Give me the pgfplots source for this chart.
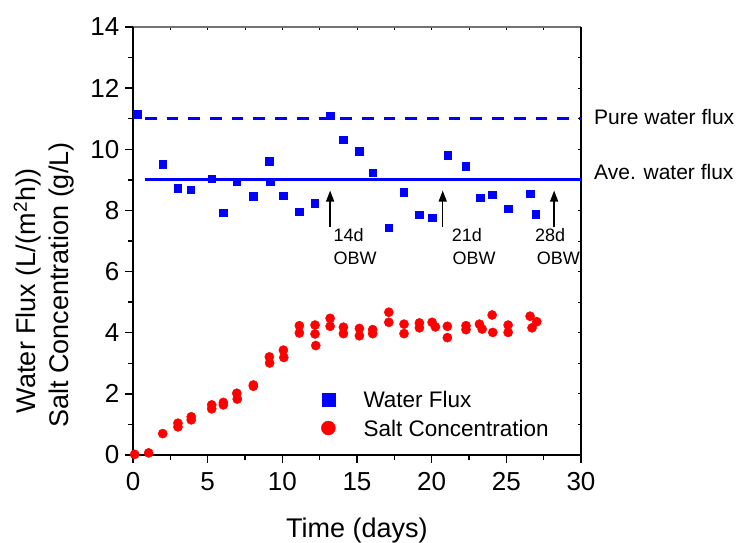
\documentclass[border=0pt]{standalone}
\usepackage{pgfplots}
\pgfplotsset{compat=1.18}
\usepackage{fontspec}
\setmainfont{Liberation Sans}
\usetikzlibrary{arrows.meta}
\definecolor{pblue}{RGB}{0,0,255}
\definecolor{pred}{RGB}{255,0,0}
\newcommand{\tickfont}{\fontsize{26}{31}\selectfont}
\newcommand{\labfont}{\fontsize{27}{32}\selectfont}
\newcommand{\legfont}{\fontsize{22.5}{27}\selectfont}
\newcommand{\annfont}{\fontsize{18}{22}\selectfont}
\newcommand{\rfont}{\fontsize{21}{25}\selectfont}
\begin{document}
\begin{tikzpicture}
\begin{axis}[
  width=448pt, height=428pt, scale only axis,
  xmin=0, xmax=30, ymin=0, ymax=14,
  axis x line*=top, axis y line*=right,
  x axis line style={line width=1.2pt, black!55},
  y axis line style={line width=1.6pt, black},
  xtick={0,5,...,30}, ytick={0,2,...,14},
  minor x tick num=1, minor y tick num=1,
  tick align=inside, major tick length=3pt, minor tick length=3pt,
  tick style={black, line width=0.8pt},
  xticklabels={}, yticklabels={},
]
\end{axis}
\begin{axis}[
  width=448pt, height=428pt, scale only axis,
  xmin=0, xmax=30, ymin=0, ymax=14,
  axis x line*=bottom, axis y line*=left,
  axis line style={line width=1.6pt, black},
  xtick={0,5,...,30}, ytick={0,2,...,14},
  minor x tick num=1, minor y tick num=1,
  tick align=outside,
  major tick length=7.5pt, minor tick length=5pt,
  tick style={black, line width=1.3pt},
  tick label style={font=\tickfont},
  /pgf/number format/assume math mode=true,
  yticklabel style={inner sep=0pt, xshift=-6pt},
  xticklabel style={inner sep=0pt, yshift=-10pt},
  legend style={draw=none, fill=none, font=\legfont,
    at={(axis cs:12.52,1.32)}, anchor=west, inner sep=0pt,
    row sep=11pt, cells={anchor=west}, nodes={inner sep=0pt}},
  legend image code/.code={\path (0pt,0pt) (43pt,0pt); \draw[#1] plot coordinates {(8pt,1pt)};},
]
% reference lines
\addplot[forget plot, pblue, line width=2.9pt, dash pattern=on 11.7pt off 10pt] coordinates {(0.8,11) (30,11)};
\addplot[forget plot, pblue, line width=2.9pt] coordinates {(0.8,9) (30,9)};
% water flux
\addplot[forget plot, only marks, mark=square*, pblue, mark size=3.75pt] coordinates {
(0.29,11.15) (1.99,9.51) (3.01,8.72) (3.86,8.67) (5.27,9.03) (6.03,7.92) (6.94,8.94)
(8.04,8.46) (9.11,9.61) (9.2,8.94) (10.07,8.48) (11.14,7.96) (12.17,8.24) (13.2,11.1)
(14.09,10.31) (15.16,9.94) (16.05,9.23) (17.12,7.44) (18.13,8.59) (19.16,7.86) (20.03,7.77)
(21.08,9.8) (22.28,9.44) (23.26,8.41) (24.05,8.52) (25.12,8.06) (26.59,8.55) (26.97,7.88)
};
% salt concentration
\addplot[forget plot, only marks, mark=*, pred, mark size=4.6pt] coordinates {
(0.11,0.02) (1.05,0.07) (1.99,0.70) (3.01,1.04) (3.01,0.92) (3.9,1.25) (3.9,1.15)
(5.27,1.64) (5.27,1.51) (6.05,1.72) (6.05,1.64) (6.95,2.02) (6.98,1.83) (8.06,2.29) (8.06,2.25)
(9.13,3.21) (9.15,3.01) (10.07,3.43) (10.1,3.19) (11.14,4.23) (11.14,3.99)
(12.19,4.25) (12.19,3.96) (12.24,3.58) (13.2,4.47) (13.2,4.21) (14.09,4.18) (14.09,3.97)
(15.16,4.14) (15.16,3.90) (16.05,4.10) (16.05,3.97) (17.13,4.67) (17.13,4.34)
(18.15,4.28) (18.15,3.97) (19.18,4.32) (19.18,4.16) (20.03,4.34) (20.25,4.19)
(21.05,4.21) (21.05,3.84) (22.3,4.23) (22.3,4.10) (23.2,4.28) (23.38,4.12)
(24.05,4.58) (24.09,4.01) (25.12,4.25) (25.12,4.01) (26.59,4.54) (27.04,4.36) (26.72,4.16)
};
\addlegendimage{only marks, mark=square*, pblue, mark size=6.5pt}
\addlegendentry{Water Flux}
\addlegendimage{only marks, mark=*, pred, mark size=7pt}
\addlegendentry{Salt Concentration}
% arrows
\draw[-{Triangle[length=11pt,width=8pt]}, line width=1.5pt] (axis cs:13.2,7.45) -- (axis cs:13.2,8.65);
\draw[-{Triangle[length=11pt,width=8pt]}, line width=1.5pt] (axis cs:20.74,7.45) -- (axis cs:20.74,8.65);
\draw[-{Triangle[length=11pt,width=8pt]}, line width=1.5pt] (axis cs:28.2,7.45) -- (axis cs:28.2,8.65);
\end{axis}
% annotations
\node[anchor=base west, inner sep=0pt, font=\annfont] at (200.3pt,213.3pt) {14d};
\node[anchor=base west, inner sep=0pt, font=\annfont] at (200.3pt,190.7pt) {OBW};
\node[anchor=base west, inner sep=0pt, font=\annfont] at (318.7pt,213.3pt) {21d};
\node[anchor=base west, inner sep=0pt, font=\annfont] at (319.3pt,190.7pt) {OBW};
\node[anchor=base west, inner sep=0pt, font=\annfont] at (402pt,213.3pt) {28d};
\node[anchor=base west, inner sep=0pt, font=\annfont] at (403.7pt,190.7pt) {OBW};
\node[anchor=base west, inner sep=0pt, font=\rfont] at (461pt,330.4pt) {Pure water flux};
\node[anchor=base west, inner sep=0pt, font=\rfont] at (461pt,275.4pt) {Ave. water flux};
% axis labels
\node[anchor=base, rotate=90, inner sep=0pt, font=\labfont] at (-97pt,164pt) {Water Flux (L/(m\textsuperscript{2}h))};
\node[anchor=base, rotate=90, inner sep=0pt, font=\labfont] at (-64pt,170pt) {Salt Concentration (g/L)};
\node[anchor=base, inner sep=0pt, font=\labfont] at (224pt,-83pt) {Time (days)};
\pgfresetboundingbox
\path (-133pt,-88pt) rectangle (606pt,455pt);
\end{tikzpicture}
\end{document}
